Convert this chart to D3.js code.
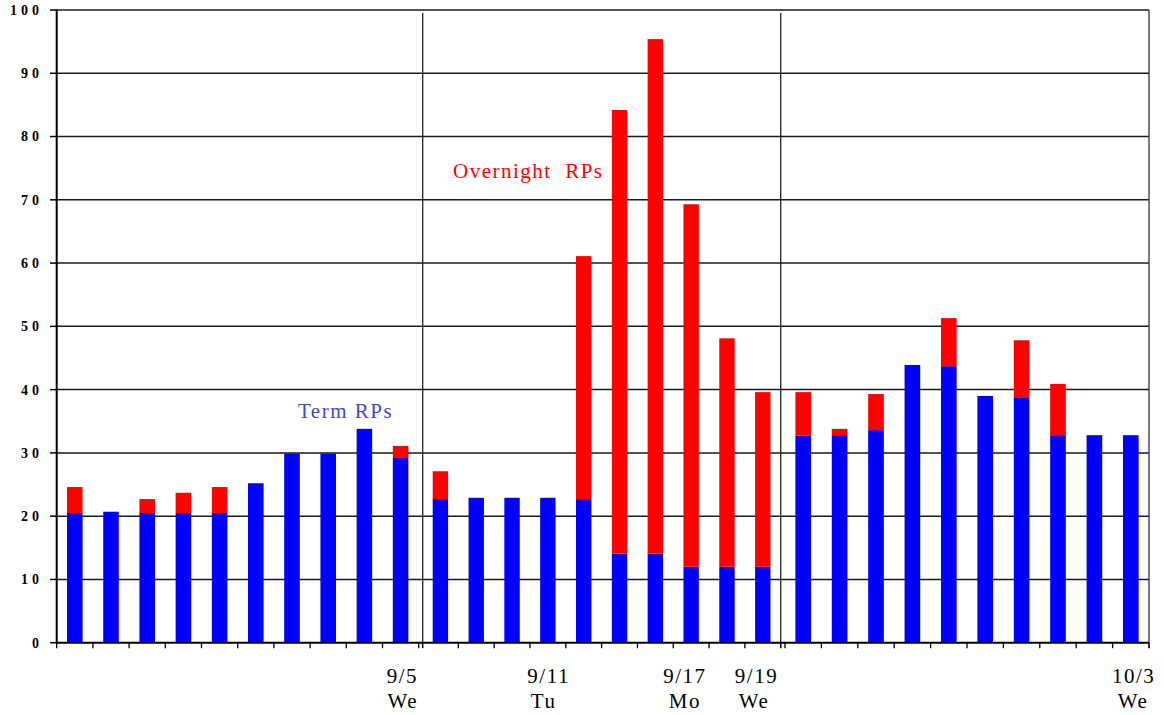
<!DOCTYPE html>
<html>
<head>
<meta charset="utf-8">
<script src="https://cdn.jsdelivr.net/npm/d3@7/dist/d3.min.js"></script>
<style>
  html, body { margin: 0; padding: 0; background: #fff; }
  svg { display: block; }
</style>
</head>
<body>
<svg id="chart" width="1164" height="715"></svg>
<script>
// ---- Data ----
const dates = [
  "8/22","8/23","8/24","8/27","8/28","8/29","8/30","8/31","9/4","9/5",
  "9/6","9/7","9/10","9/11","9/12","9/13","9/14","9/17","9/18","9/19",
  "9/20","9/21","9/24","9/25","9/26","9/27","9/28","10/1","10/2","10/3"
];
const termRPs = [
  20.5, 20.7, 20.5, 20.5, 20.5, 25.2, 29.9, 29.9, 33.8, 29.2,
  22.7, 22.9, 22.9, 22.9, 22.7, 14.1, 14.1, 12.0, 12.0, 12.0,
  32.7, 32.8, 33.6, 43.9, 43.7, 39.0, 38.8, 32.8, 32.8, 32.8
];
const overnightRPs = [
  4.1, 0, 2.2, 3.2, 4.1, 0, 0, 0, 0, 1.9,
  4.4, 0, 0, 0, 38.4, 70.1, 81.3, 57.3, 36.1, 27.6,
  6.9, 1.0, 5.7, 0, 7.6, 0, 9.0, 8.1, 0, 0
];
const panels = [
  dates.slice(0, 10),
  dates.slice(10, 20),
  dates.slice(20, 30)
];
const tickDates = ["9/5", "9/11", "9/17", "9/19", "10/3"];
const tickDays  = ["We", "Tu", "Mo", "We", "We"];
const yTicks = [0, 10, 20, 30, 40, 50, 60, 70, 80, 90, 100];

// ---- Layout ----
const svg = d3.select("#chart");
const serif = "'Liberation Serif', 'Times New Roman', serif";
const panelRanges = [[56.7, 418.7], [422.5, 780.7], [785, 1149]];
const xLeft = 56.7, xRight = 1149;
// horizontal label nudges (px) relative to the bar centre, as placed in the original
const dateNudge = [1, 0, -7, -7, 2];
const dayNudge  = [1.5, -5, -7, -9.5, 1.5];
const y = d3.scaleLinear().domain([0, 100]).range([642.7, 10]);

const scales = panels.map((cats, i) =>
  d3.scaleBand().domain(cats).range(panelRanges[i]).paddingInner(0.57).paddingOuter(0.285)
);
function scaleFor(d) { return scales.find(s => s.domain().includes(d)); }
function xCenter(d) { const s = scaleFor(d); return s(d) + s.bandwidth() / 2; }

const rows = dates.map((d, i) => ({ date: d, term: termRPs[i], on: overnightRPs[i] }));

// Gridlines
svg.append("g").selectAll("line")
  .data(yTicks.filter(v => v > 0))
  .join("line")
  .attr("x1", xLeft).attr("x2", xRight)
  .attr("y1", v => y(v)).attr("y2", v => y(v))
  .attr("stroke", "#1a1a1a").attr("stroke-width", 1.5);

// Bars
const bars = svg.append("g");
bars.selectAll("rect.term")
  .data(rows)
  .join("rect")
  .attr("class", "term")
  .attr("x", d => scaleFor(d.date)(d.date))
  .attr("width", d => scaleFor(d.date).bandwidth())
  .attr("y", d => y(d.term))
  .attr("height", d => y(0) - y(d.term))
  .attr("fill", "#0000ff");
bars.selectAll("rect.on")
  .data(rows.filter(d => d.on > 0))
  .join("rect")
  .attr("class", "on")
  .attr("x", d => scaleFor(d.date)(d.date))
  .attr("width", d => scaleFor(d.date).bandwidth())
  .attr("y", d => y(d.term + d.on))
  .attr("height", d => y(d.term) - y(d.term + d.on))
  .attr("fill", "#ff0000");

// Panel dividers and right border
[422.7, 780.7].forEach(x => {
  svg.append("line").attr("x1", x).attr("x2", x).attr("y1", 13).attr("y2", 648)
    .attr("stroke", "#222").attr("stroke-width", 1.3);
});
svg.append("line").attr("x1", xRight).attr("x2", xRight).attr("y1", 10).attr("y2", 648)
  .attr("stroke", "#333").attr("stroke-width", 1.3);

// Y axis
const yAxis = svg.append("g");
yAxis.append("line").attr("x1", xLeft).attr("x2", xLeft).attr("y1", y(100) - 0.8).attr("y2", y(0) + 1)
  .attr("stroke", "#000").attr("stroke-width", 2);
yAxis.selectAll("line.tick").data(yTicks).join("line").attr("class", "tick")
  .attr("x1", 50).attr("x2", xLeft).attr("y1", v => y(v)).attr("y2", v => y(v))
  .attr("stroke", "#000").attr("stroke-width", 1.5);
yAxis.selectAll("text").data(yTicks).join("text")
  .attr("x", 43).attr("y", v => y(v)).attr("dy", "0.35em")
  .attr("text-anchor", "end")
  .attr("font-family", serif).attr("font-weight", "bold").attr("font-size", 14)
  .style("letter-spacing", "4px")
  .attr("fill", "#000")
  .text(v => v);

// X axis
const xAxis = svg.append("g");
xAxis.append("line").attr("x1", xLeft).attr("x2", xRight).attr("y1", y(0)).attr("y2", y(0))
  .attr("stroke", "#000").attr("stroke-width", 2);
scales.forEach(s => {
  const [r0, r1] = s.range();
  const n = s.domain().length;
  const step = (r1 - r0) / n;
  const b = d3.range(n + 1).map(i => r0 + i * step);
  xAxis.append("g").selectAll("line").data(b).join("line")
    .attr("x1", d => d).attr("x2", d => d)
    .attr("y1", y(0)).attr("y2", y(0) + 5.5)
    .attr("stroke", "#000").attr("stroke-width", 1.3);
});
tickDates.forEach((d, i) => {
  const cx = xCenter(d);
  xAxis.append("text").attr("x", cx + 0.75 + dateNudge[i]).attr("y", 683)
    .attr("text-anchor", "middle").attr("font-family", serif).attr("font-size", 21)
    .style("letter-spacing", "1.5px").attr("fill", "#000").text(d);
  xAxis.append("text").attr("x", cx + 0.75 + dayNudge[i]).attr("y", 708)
    .attr("text-anchor", "middle").attr("font-family", serif).attr("font-size", 21)
    .style("letter-spacing", "1.5px").attr("fill", "#000").text(tickDays[i]);
});

// Series annotations
svg.append("text").attr("x", 453).attr("y", 178)
  .attr("font-family", serif).attr("font-size", 21)
  .style("letter-spacing", "1.5px").style("white-space", "pre")
  .attr("fill", "#ff0000").text("Overnight  RPs");
svg.append("text").attr("x", 298).attr("y", 418)
  .attr("font-family", serif).attr("font-size", 21)
  .style("letter-spacing", "1.5px").style("white-space", "pre")
  .attr("fill", "#4646d2").text("Term RPs");
</script>
</body>
</html>
